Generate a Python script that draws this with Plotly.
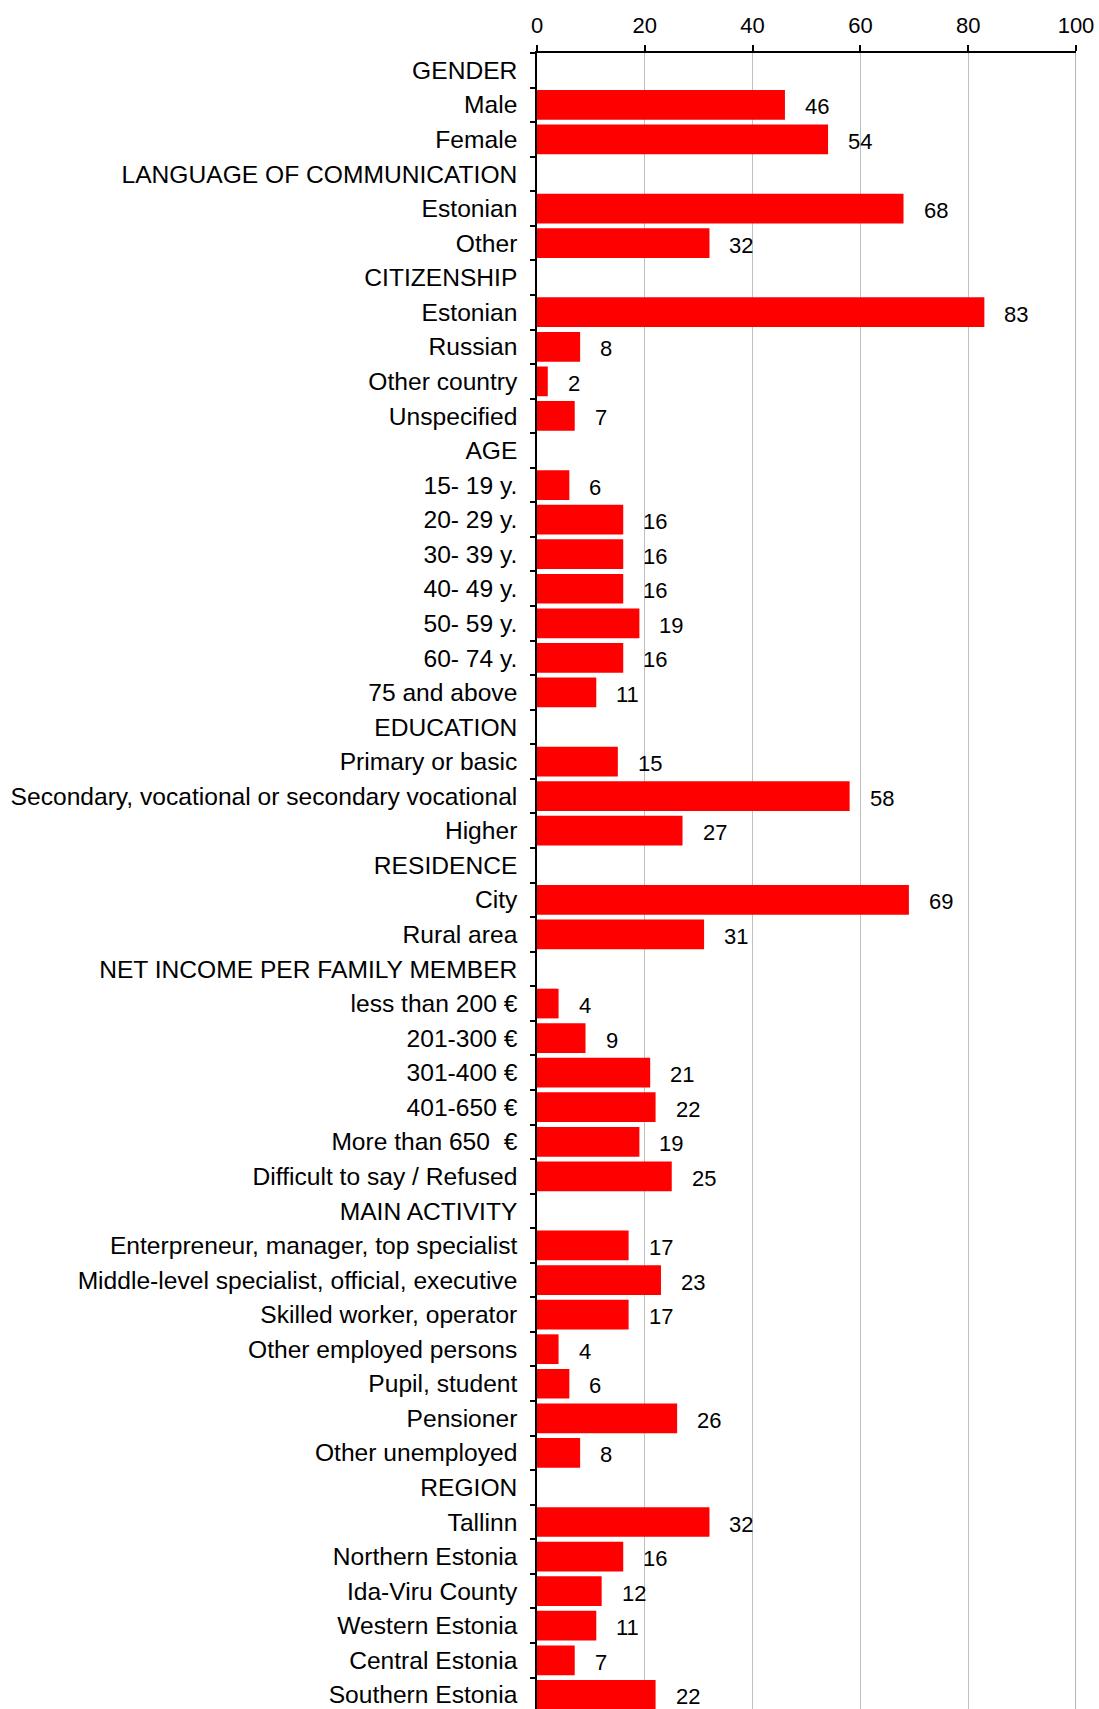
import plotly.graph_objects as go

# Survey sample structure, % of respondents per group
group_titles = [
    "GENDER",
    "LANGUAGE OF COMMUNICATION",
    "CITIZENSHIP",
    "AGE",
    "EDUCATION",
    "RESIDENCE",
    "NET INCOME PER FAMILY MEMBER",
    "MAIN ACTIVITY",
    "REGION",
]

gender_labels = ["Male", "Female"]
gender_values = [46, 54]

language_labels = ["Estonian", "Other"]
language_values = [68, 32]

citizenship_labels = ["Estonian", "Russian", "Other country", "Unspecified"]
citizenship_values = [83, 8, 2, 7]

age_labels = ["15- 19 y.", "20- 29 y.", "30- 39 y.", "40- 49 y.", "50- 59 y.", "60- 74 y.", "75 and above"]
age_values = [6, 16, 16, 16, 19, 16, 11]

education_labels = ["Primary or basic", "Secondary, vocational or secondary vocational", "Higher"]
education_values = [15, 58, 27]

residence_labels = ["City", "Rural area"]
residence_values = [69, 31]

income_labels = ["less than 200 €", "201-300 €", "301-400 €", "401-650 €", "More than 650  €",
                 "Difficult to say / Refused"]
income_values = [4, 9, 21, 22, 19, 25]

activity_labels = ["Enterpreneur, manager, top specialist", "Middle-level specialist, official, executive",
                   "Skilled worker, operator", "Other employed persons", "Pupil, student",
                   "Pensioner", "Other unemployed"]
activity_values = [17, 23, 17, 4, 6, 26, 8]

region_labels = ["Tallinn", "Northern Estonia", "Ida-Viru County", "Western Estonia",
                 "Central Estonia", "Southern Estonia"]
region_values = [32, 16, 12, 11, 7, 22]

x_ticks = [0, 20, 40, 60, 80, 100]

groups = [
    (gender_labels, gender_values),
    (language_labels, language_values),
    (citizenship_labels, citizenship_values),
    (age_labels, age_values),
    (education_labels, education_values),
    (residence_labels, residence_values),
    (income_labels, income_values),
    (activity_labels, activity_values),
    (region_labels, region_values),
]

# Flatten: each group title gets its own empty row followed by its items
row_labels = []
row_values = []
for title, (labels, values) in zip(group_titles, groups):
    row_labels.append(title)
    row_values.append(None)
    row_labels.extend(labels)
    row_values.extend(values)

row_pos = list(range(len(row_labels)))

FONT = "Liberation Sans, Arial, sans-serif"

fig = go.Figure()
fig.add_trace(go.Bar(
    y=row_pos,
    x=row_values,
    orientation="h",
    marker=dict(color="#ff0000", line=dict(width=0)),
    width=0.86,
    hoverinfo="skip",
))

# value labels to the right of each bar
for pos, val in zip(row_pos, row_values):
    if val is None:
        continue
    fig.add_annotation(
        x=val, y=pos, xref="x", yref="y",
        text=str(val), showarrow=False,
        xanchor="left", yanchor="middle",
        xshift=18, yshift=-2,
        font=dict(family=FONT, size=22, color="black"),
    )

# darker frame line at the right end of the scale
fig.add_shape(type="line", xref="x", yref="paper", x0=100, x1=100, y0=0, y1=1,
              line=dict(color="#8c8c8c", width=1.3), layer="below")

fig.update_layout(
    width=1099,
    height=1709,
    margin=dict(l=537, r=23, t=53, b=0, pad=0),
    paper_bgcolor="white",
    plot_bgcolor="white",
    showlegend=False,
    font=dict(family=FONT, color="black"),
    xaxis=dict(
        side="top",
        range=[0, 100],
        tickvals=x_ticks,
        ticktext=[str(v) for v in x_ticks],
        ticks="outside",
        ticklen=6,
        tickwidth=1.5,
        tickcolor="black",
        showline=True,
        linecolor="black",
        linewidth=1.5,
        showgrid=True,
        gridcolor="#c0c0c0",
        gridwidth=1.2,
        zeroline=False,
        tickfont=dict(family=FONT, size=22, color="black"),
        ticklabelstandoff=3,
        fixedrange=True,
    ),
    yaxis=dict(
        range=[47.41, -0.5],
        tickmode="array",
        tickvals=row_pos,
        ticktext=row_labels,
        ticks="",
        showline=True,
        linecolor="black",
        linewidth=1.5,
        showgrid=False,
        zeroline=False,
        tickfont=dict(family=FONT, size=24.6, color="black"),
        ticklabelstandoff=13,
        minor=dict(
            tickmode="linear",
            tick0=-0.5,
            dtick=1,
            ticks="outside",
            ticklen=5,
            tickwidth=1.5,
            tickcolor="black",
            showgrid=False,
        ),
        fixedrange=True,
    ),
    bargap=0.14,
)

fig.write_html("out.html", config={"displayModeBar": False})
